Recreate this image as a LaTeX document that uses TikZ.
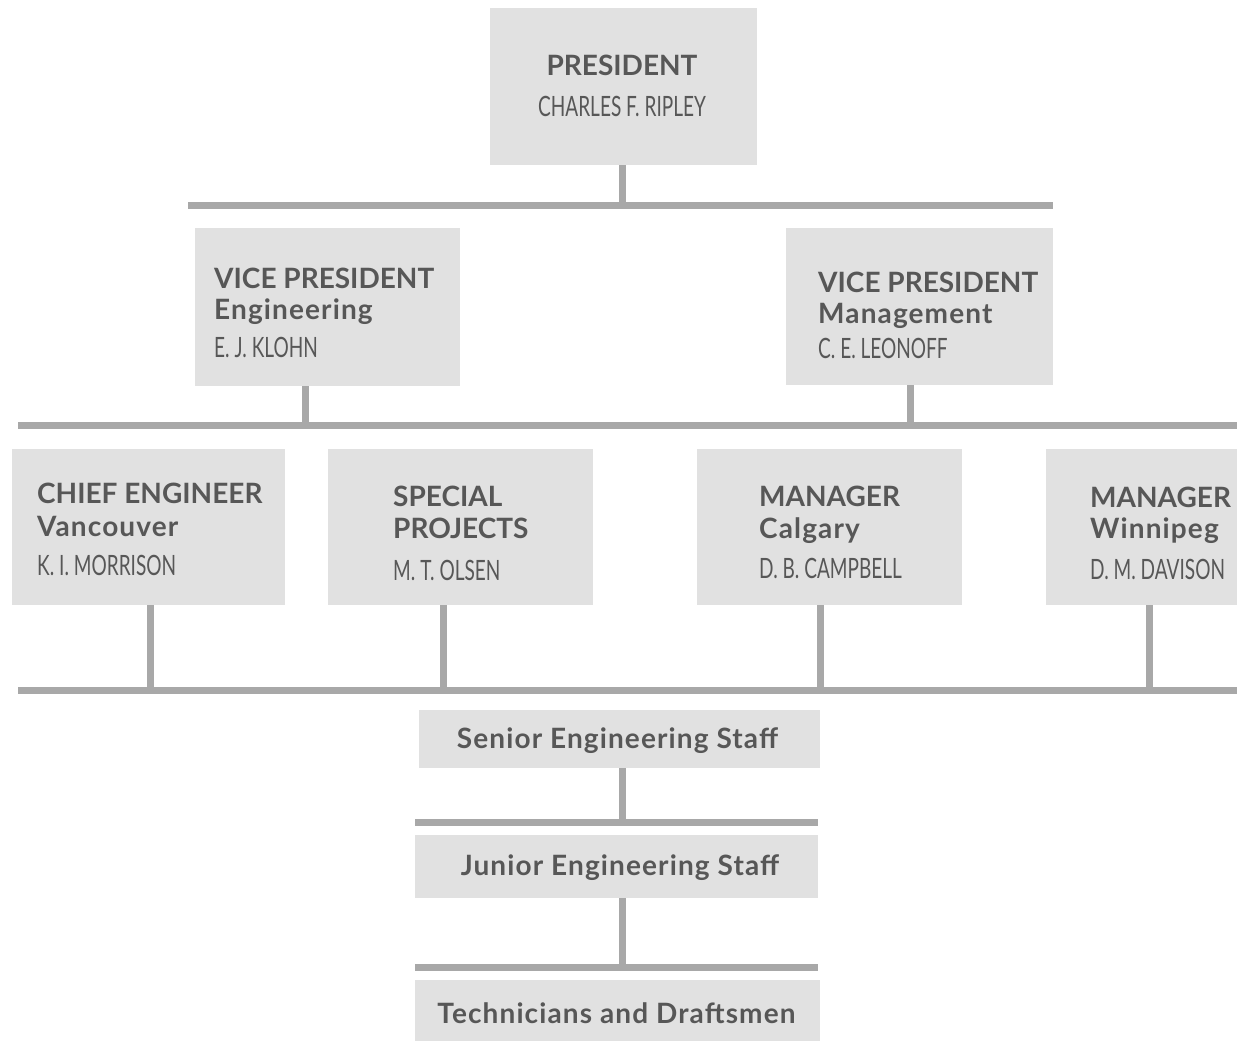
\documentclass[tikz,border=0pt]{standalone}
\usepackage{fontspec}
\setmainfont{Lato}
\newfontfamily\namefont[FakeStretch=0.68]{Lato}
\definecolor{boxgray}{HTML}{E1E1E1}
\definecolor{bargray}{HTML}{A8A8A8}
\definecolor{inkgray}{HTML}{575757}
\newcommand\rankline[1]{{\bfseries #1}}
\newcommand\unitline[1]{{\bfseries\addfontfeature{LetterSpace=4}#1}}
\newcommand\person[1]{{\namefont #1}}
\begin{document}
\begin{tikzpicture}[x=1pt,y=-1pt,
  box/.style={fill=boxgray, draw=none, inner sep=0pt},
  txt/.style={text=inkgray, inner sep=0pt, align=left, font=\fontsize{28}{31}\selectfont},
  bar/.style={draw=bargray, line width=7pt},
  stem/.style={draw=bargray, line width=7pt}]
\useasboundingbox (0,0) rectangle (1237,1041);

% ---- boxes ----
\node[box, minimum width=267pt, minimum height=157pt] (pres) at (623.5,86.5) {};
\node[box, minimum width=265pt, minimum height=158pt] (vpe) at (327.5,307) {};
\node[box, minimum width=267pt, minimum height=157pt] (vpm) at (919.5,306.5) {};
\node[box, minimum width=273pt, minimum height=156pt] (ce) at (148.5,527) {};
\node[box, minimum width=265pt, minimum height=156pt] (sp) at (460.5,527) {};
\node[box, minimum width=265pt, minimum height=156pt] (cal) at (829.5,527) {};
\node[box, minimum width=191pt, minimum height=156pt] (win) at (1141.5,527) {};
\node[box, minimum width=401pt, minimum height=58pt] (sen) at (619.5,739) {};
\node[box, minimum width=403pt, minimum height=63pt] (jun) at (616.5,866.5) {};
\node[box, minimum width=405pt, minimum height=61pt] (tech) at (617.5,1010.5) {};

% ---- texts ----
\node[txt, align=center, anchor=north] (pres-t) at (622,55)
  {\rankline{PRESIDENT}\\[10pt]\person{CHARLES F. RIPLEY}};
\node[txt, anchor=north west] (vpe-t) at (214,268)
  {\rankline{VICE PRESIDENT}\\\unitline{Engineering}\\[7pt]\person{E. J. KLOHN}};
\node[txt, anchor=north west] (vpm-t) at (818,272)
  {\rankline{VICE PRESIDENT}\\\unitline{Management}\\[4pt]\person{C. E. LEONOFF}};
\node[txt, anchor=north west] (ce-t) at (37,483)
  {\rankline{CHIEF ENGINEER}\\[2pt]\unitline{Vancouver}\\[8pt]\person{K. I. MORRISON}};
\node[txt, anchor=north west] (sp-t) at (393,486)
  {\rankline{SPECIAL}\\[1pt]\rankline{PROJECTS}\\[11pt]\person{M. T. OLSEN}};
\node[txt, anchor=north west] (cal-t) at (759,486)
  {\rankline{MANAGER}\\[1pt]\unitline{Calgary}\\[9pt]\person{D. B. CAMPBELL}};
\node[txt, anchor=north west] (win-t) at (1090,487)
  {\rankline{MANAGER}\\\unitline{Winnipeg}\\[10pt]\person{D. M. DAVISON}};
\node[txt, anchor=base] (sen-t) at (617.5,748) {\unitline{Senior Engineering Staff}};
\node[txt, anchor=base] (jun-t) at (620,875) {\unitline{Junior Engineering Staff}};
\node[txt, anchor=base] (tech-t) at (616.5,1023) {\unitline{Technicians and Draftsmen}};

% ---- horizontal bars ----
\coordinate (b1w) at (188,205);  \coordinate (b1e) at (1053,205);
\coordinate (b2w) at (18,425);   \coordinate (b2e) at (1237,425);
\coordinate (b3w) at (18,690);   \coordinate (b3e) at (1237,690);
\coordinate (b4w) at (415,822);  \coordinate (b4e) at (818,822);
\coordinate (b5w) at (415,967);  \coordinate (b5e) at (818,967);
\foreach \b in {1,...,5} \draw[bar] (b\b w) -- (b\b e);

% ---- stems ----
\coordinate (pres-s) at ([xshift=-1.5pt]pres.south);
\coordinate (vpe-s) at ([xshift=-22.5pt]vpe.south);
\coordinate (vpm-s) at ([xshift=-9.5pt]vpm.south);
\coordinate (ce-s) at ([xshift=1.5pt]ce.south);
\coordinate (sp-s) at ([xshift=-17.5pt]sp.south);
\coordinate (cal-s) at ([xshift=-9.5pt]cal.south);
\coordinate (win-s) at ([xshift=7.5pt]win.south);
\coordinate (sen-s) at ([xshift=2.5pt]sen.south);
\coordinate (jun-s) at ([xshift=5.5pt]jun.south);
\draw[stem] (pres-s) -- (pres-s |- b1w);
\foreach \n in {vpe,vpm} \draw[stem] (\n-s) -- (\n-s |- b2w);
\foreach \n in {ce,sp,cal,win} \draw[stem] (\n-s) -- (\n-s |- b3w);
\draw[stem] (sen-s) -- (sen-s |- b4w);
\draw[stem] (jun-s) -- (jun-s |- b5w);
\end{tikzpicture}
\end{document}
